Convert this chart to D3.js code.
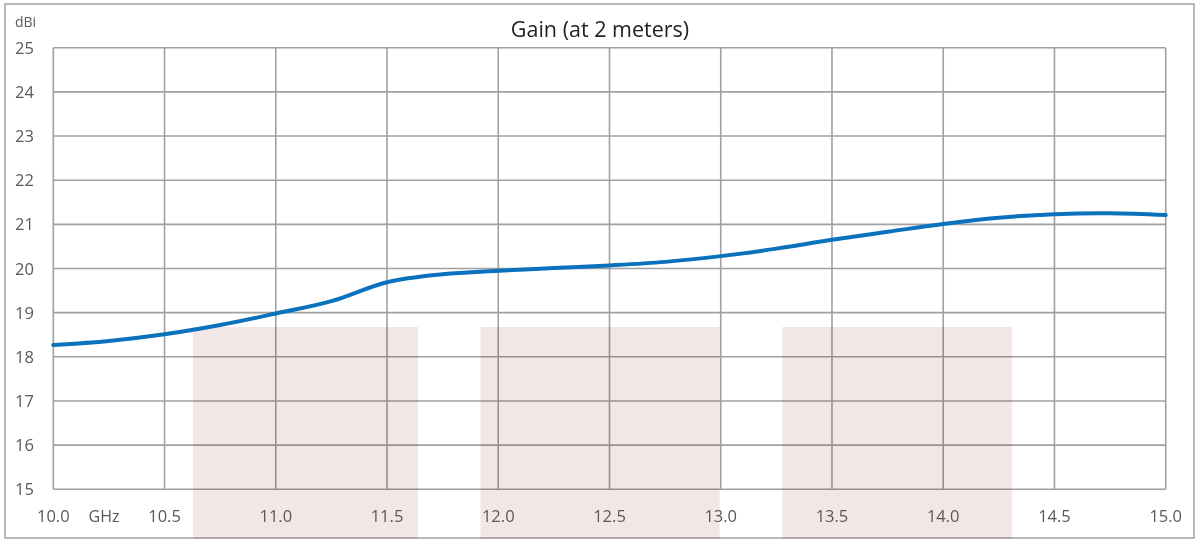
<!DOCTYPE html>
<html>
<head>
<meta charset="utf-8">
<script src="https://cdn.jsdelivr.net/npm/d3@7"></script>
<style>
  body { margin: 0; background: #fff; }
  svg text { font-family: "Open Sans", "DejaVu Sans", sans-serif; }
</style>
</head>
<body>
<svg id="chart" width="1195" height="539"></svg>
<script>
var freqs = [10.0, 10.25, 10.5, 10.75, 11.0, 11.25, 11.5, 11.75, 12.0, 12.25, 12.5,
             12.75, 13.0, 13.25, 13.5, 13.75, 14.0, 14.25, 14.5, 14.75, 15.0];
var gain = [18.27, 18.36, 18.51, 18.72, 18.98, 19.26, 19.69, 19.87, 19.95, 20.01, 20.07,
            20.15, 20.28, 20.45, 20.65, 20.83, 21.01, 21.15, 21.23, 21.25, 21.21];
var bandStart = [10.628, 11.92, 13.277];
var bandEnd = [11.64, 12.995, 14.31];
var bandTop = 18.675;
var xTicks = [10.0, 10.5, 11.0, 11.5, 12.0, 12.5, 13.0, 13.5, 14.0, 14.5, 15.0];
var yTicks = [15, 16, 17, 18, 19, 20, 21, 22, 23, 24, 25];

(function () {
    'use strict';
    var svg = d3.select("#chart");
    var H = 539;

    var x = d3.scaleLinear().domain([10, 15]).range([53.3, 1165.7]);
    var y = d3.scaleLinear().domain([15, 25]).range([489.3, 47.7]);

    // outer frame
    svg.append("rect")
        .attr("x", 5).attr("y", 4)
        .attr("width", 1189).attr("height", 534)
        .attr("fill", "#fff")
        .attr("stroke", "#a3a3a3")
        .attr("stroke-width", 1.5);

    // grid
    var grid = svg.append("g");
    grid.selectAll(".vg").data(xTicks).enter().append("line")
        .attr("x1", function (d) { return x(d); })
        .attr("x2", function (d) { return x(d); })
        .attr("y1", y(25)).attr("y2", y(15))
        .attr("stroke", "#a0a0a0").attr("stroke-width", 1.6);
    grid.selectAll(".hg").data(yTicks).enter().append("line")
        .attr("y1", function (d) { return y(d); })
        .attr("y2", function (d) { return y(d); })
        .attr("x1", x(10)).attr("x2", x(15))
        .attr("stroke", "#a0a0a0").attr("stroke-width", 1.6);

    // pink bands (multiply over the grid)
    svg.append("g").selectAll("rect")
        .data(bandStart).enter().append("rect")
        .attr("x", function (d) { return x(d); })
        .attr("width", function (d, i) { return x(bandEnd[i]) - x(d); })
        .attr("y", y(bandTop))
        .attr("height", H - y(bandTop))
        .attr("fill", "#f3e6e6")
        .style("mix-blend-mode", "multiply");

    // curve
    var line = d3.line()
        .x(function (d, i) { return x(freqs[i]); })
        .y(function (d) { return y(d); })
        .curve(d3.curveCatmullRom.alpha(0.5));
    svg.append("path")
        .datum(gain)
        .attr("d", line)
        .attr("fill", "none")
        .attr("stroke", "#0a72bc")
        .attr("stroke-width", 4)
        .attr("stroke-linecap", "round");

    // y labels
    svg.selectAll(".yl").data(yTicks).enter().append("text")
        .attr("x", 15)
        .attr("y", function (d) { return y(d) + 6; })
        .attr("fill", "#595959")
        .attr("font-size", 16.5)
        .text(function (d) { return d; });
    svg.append("text")
        .attr("x", 15).attr("y", 27)
        .attr("fill", "#595959")
        .attr("font-size", 14)
        .text("dBi");

    // x labels
    svg.selectAll(".xl").data(xTicks).enter().append("text")
        .attr("x", function (d) { return x(d); })
        .attr("y", 522)
        .attr("text-anchor", "middle")
        .attr("fill", "#595959")
        .attr("font-size", 16.5)
        .text(function (d) { return d.toFixed(1); });
    svg.append("text")
        .attr("x", 104).attr("y", 522)
        .attr("text-anchor", "middle")
        .attr("fill", "#595959")
        .attr("font-size", 16)
        .text("GHz");

    // title
    svg.append("text")
        .attr("x", 600).attr("y", 37)
        .attr("text-anchor", "middle")
        .attr("fill", "#222")
        .attr("font-size", 21.5)
        .text("Gain (at 2 meters)");
}());
</script>
</body>
</html>
